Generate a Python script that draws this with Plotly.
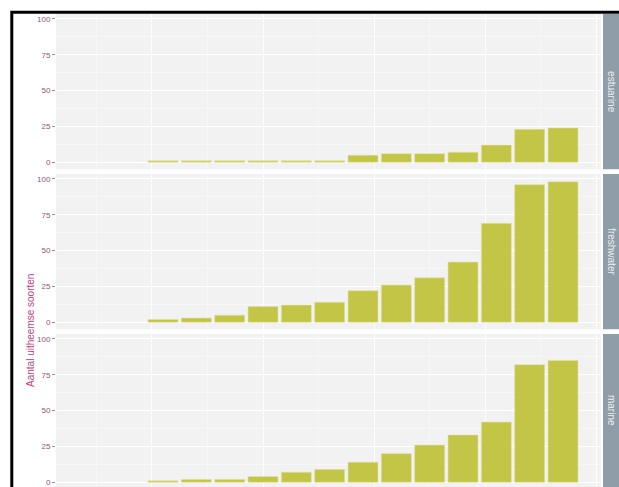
import plotly.graph_objects as go

# ---- data ----
years = [1981, 1984, 1987, 1990, 1993, 1996, 1999, 2002, 2005, 2008, 2011, 2014, 2017]
estuarine = [1, 1, 1, 1, 1, 1, 5, 6, 6, 7, 12, 23, 24]
freshwater = [2, 3, 5, 11, 12, 14, 22, 26, 31, 42, 69, 96, 98]
marine = [1, 2, 2, 4, 7, 9, 14, 20, 26, 33, 42, 82, 85]
panels = ["estuarine", "freshwater", "marine"]
series = [estuarine, freshwater, marine]
y_title = "Aantal uitheemse soorten"
y_ticks = [0, 25, 50, 75, 100]

# ---- layout constants ----
W, H = 619, 487
BAR = "#C3C546"
PANEL_BG = "#F2F2F2"
STRIP = "#8E9DA7"
TICK_COL = "#94527A"
TITLE_COL = "#C04384"
FONT = "Liberation Sans, Arial, sans-serif"

px_per_unit = 1.434
zero_px = [162.3, 322.3, 482.3]
y_top = 103.5
y_bot = -4.9
x_left_px, x_right_px = 56, 601
x_range = [1971.37, 2020.42]

fig = go.Figure()
layout = dict(
    width=W, height=H, margin=dict(l=0, r=0, t=0, b=0),
    paper_bgcolor="white", plot_bgcolor=PANEL_BG,
    showlegend=False, bargap=0,
    font=dict(family=FONT),
)
shapes = []
annotations = []

for i, (name, vals) in enumerate(zip(panels, series)):
    k = "" if i == 0 else str(i + 1)
    z = zero_px[i]
    top_px = z - y_top * px_per_unit
    bot_px = min(z - y_bot * px_per_unit, H)
    rng_bot = -(bot_px - z) / px_per_unit
    fig.add_trace(go.Bar(
        x=years, y=vals, width=2.7,
        marker=dict(color=BAR, line=dict(color="#E2E3A8", width=0.6)),
        xaxis="x" + k, yaxis="y" + k,
    ))
    layout["xaxis" + k] = dict(
        domain=[x_left_px / W, x_right_px / W], range=x_range,
        anchor="y" + k, showticklabels=False, ticks="",
        tickvals=[1980, 1990, 2000, 2010, 2020],
        showgrid=True, gridcolor="rgba(255,255,255,0.85)", gridwidth=1,
        minor=dict(tickvals=[1975, 1985, 1995, 2005, 2015], showgrid=True,
                   gridcolor="rgba(255,255,255,0.7)", gridwidth=0.6),
        zeroline=False, showline=False, fixedrange=True,
    )
    layout["yaxis" + k] = dict(
        domain=[1 - bot_px / H, 1 - top_px / H], range=[rng_bot, y_top],
        anchor="x" + k, tickvals=y_ticks, ticktext=[str(v) for v in y_ticks],
        ticks="outside", ticklen=3, tickcolor="#9A8A94", tickwidth=1,
        tickfont=dict(size=8, color=TICK_COL, family=FONT),
        ticklabeloverflow="allow",
        showgrid=True, gridcolor="white", gridwidth=1,
        minor=dict(tickvals=[12.5, 37.5, 62.5, 87.5], showgrid=True,
                   gridcolor="rgba(255,255,255,0.7)", gridwidth=0.6),
        zeroline=False, showline=False, fixedrange=True,
    )
    # strip
    shapes.append(dict(type="rect", xref="paper", yref="paper",
                       x0=603 / W, x1=1.05, y0=1 - bot_px / H, y1=1 - top_px / H,
                       fillcolor=STRIP, line=dict(width=0), layer="below"))
    annotations.append(dict(text=name, xref="paper", yref="paper",
                            x=611.5 / W, y=1 - (top_px + bot_px) / 2 / H,
                            showarrow=False, textangle=90,
                            font=dict(size=10, color="#EEF0F2", family=FONT),
                            xanchor="center", yanchor="middle"))

# y-axis title
annotations.append(dict(text=y_title, xref="paper", yref="paper",
                        x=30 / W, y=1 - 331 / H, showarrow=False, textangle=-90,
                        font=dict(size=10, color=TITLE_COL, family=FONT),
                        xanchor="center", yanchor="middle"))

# outer black border (cropped at right/bottom)
shapes.append(dict(type="rect", xref="paper", yref="paper",
                   x0=11.8 / W, x1=1.2, y0=-0.2, y1=1 - 12.3 / H,
                   fillcolor="rgba(0,0,0,0)", line=dict(color="black", width=3),
                   layer="above"))

layout["shapes"] = shapes
layout["annotations"] = annotations
fig.update_layout(**layout)
fig.write_html(
    "out.html",
    config={"displayModeBar": False, "staticPlot": True},
    post_script="document.body.style.margin='0';document.body.style.padding='0';"
                "document.body.style.overflow='hidden';",
)
